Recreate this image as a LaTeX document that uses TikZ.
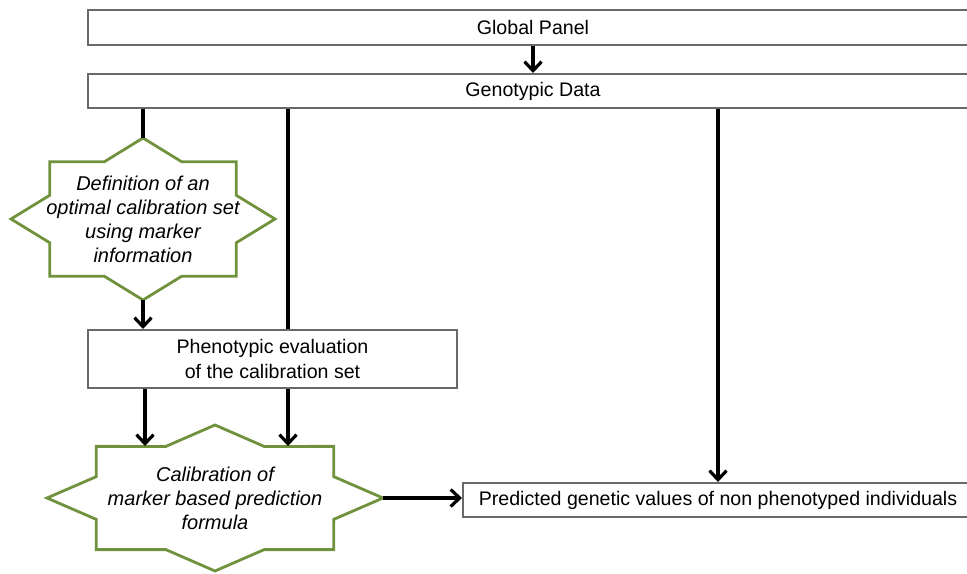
\documentclass[tikz,border=0pt]{standalone}
\usepackage{fontspec}
\setmainfont{Liberation Sans}
\usetikzlibrary{arrows.meta}
\definecolor{stargreen}{RGB}{112,146,60}
\definecolor{boxgray}{RGB}{105,105,105}
\tikzset{
  box/.style={draw=boxgray, line width=1pt, inner sep=0pt, align=center},
  starnode/.style={inner sep=0pt, align=center, font=\itshape},
  starline/.style={draw=stargreen, line width=1.4pt, line join=miter},
  link/.style={line width=1.6pt},
  arr/.style={link, -{Straight Barb[length=4.5pt,width=8.5pt,line width=1.6pt]}},
}
\newcommand{\starframe}[3]{%
  \draw[starline, shift={(#1.center)}] (0:#2 and #3)
    \foreach \k [evaluate=\k as \r using {mod(\k,2)==0 ? 1 : 0.765}] in {1,...,15} { -- ({\k*22.5}:{\r*#2} and {\r*#3}) } -- cycle;}

\begin{document}
\begin{tikzpicture}[x=0.5pt, y=-0.5pt, font=\fontsize{9.8}{12.2}\selectfont]
  \useasboundingbox (0,0) rectangle (967,573);
  \node[box, minimum width=445pt, minimum height=17.5pt] (global) at (533,27.5) {Global Panel};
  \node[box, minimum width=445pt, minimum height=17pt] (geno) at (533,91) {Genotypic Data};
  \node[starnode, minimum width=132pt, minimum height=81pt] (defin) at (143,219) {Definition of an\\optimal calibration set\\using marker\\information};
  \node[box, minimum width=184.5pt, minimum height=29pt] (pheno) at (272.5,359) {Phenotypic evaluation\\of the calibration set};
  \node[starnode, minimum width=168pt, minimum height=73pt] (calib) at (215,498) {Calibration of\\marker based prediction\\formula};
  \node[box, minimum width=255pt, minimum height=17pt] (pred) at (718,500) {Predicted genetic values of non phenotyped individuals};
  \starframe{defin}{132}{81}
  \starframe{calib}{168}{73}
  \coordinate (left) at (145,446);
  \coordinate (mid) at (288,446);
  \draw[arr] (global) -- (geno);
  \draw[link] (geno.south -| defin) -- (defin.north);
  \draw[link] (geno.south -| mid) -- (pheno.north -| mid);
  \draw[arr] (geno.south -| pred) -- (pred.north);
  \draw[arr] (defin.south) -- (defin.south |- pheno.north);
  \draw[arr] (pheno.south -| left) -- (left);
  \draw[arr] (pheno.south -| mid) -- (mid);
  \draw[arr] (calib.east) -- (calib.east -| pred.west);
\end{tikzpicture}
\end{document}
